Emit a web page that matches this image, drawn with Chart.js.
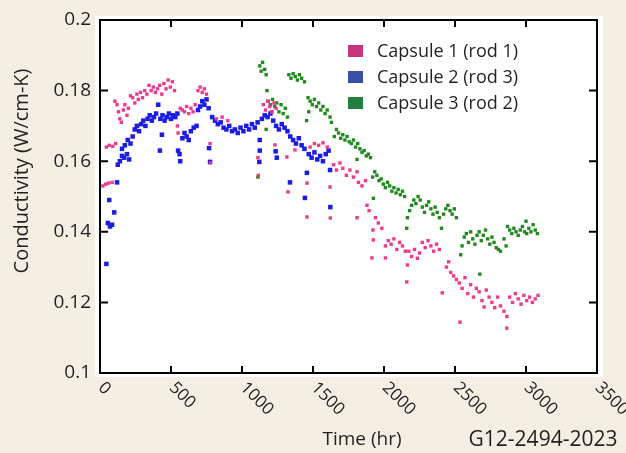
<!DOCTYPE html>
<html>
<head>
<meta charset="utf-8">
<script src="https://cdn.jsdelivr.net/npm/chart.js@4"></script>
<style>
  html, body { margin: 0; padding: 0; background: #f3efe2; }
  #wrap { width: 626px; height: 453px; }
</style>
</head>
<body>
<div id="wrap"><canvas id="cond" width="626" height="453"></canvas></div>
<script>
// tick values and labels
var xTicks = [0, 500, 1000, 1500, 2000, 2500, 3000, 3500];
var yTicks = [0.1, 0.12, 0.14, 0.16, 0.18, 0.2];
var yTickLabels = ["0.1", "0.12", "0.14", "0.16", "0.18", "0.2"];

var seriesNames = ["Capsule 1 (rod 1)", "Capsule 2 (rod 3)", "Capsule 3 (rod 2)"];

// Capsule 1 (rod 1)
var cap1Time = [20, 40, 60, 85, 45, 65, 90, 110, 105, 120, 130, 140, 150, 165, 175, 190, 200,
  215, 230, 245, 260, 270, 285, 300, 315, 330, 345, 360, 375, 390, 405, 420, 435, 450, 465, 480, 495, 510, 525,
  545, 550, 565, 580, 595, 610, 625, 640, 655, 670, 690, 705, 720, 735, 750, 775, 778, 820, 860, 900,
  1112, 1115, 1150, 1165, 1180, 1195, 1210, 1225, 1240, 1232, 1316, 1324, 1373, 1457, 1457,
  1480, 1510, 1540, 1570, 1600, 1620, 1622, 1645, 1665, 1690, 1710, 1735, 1760, 1785, 1810, 1820, 1845, 1870,
  1880, 1895, 1810, 1940, 1960, 1985, 1922, 1925, 1915, 2010, 2010, 2030, 2050, 2070, 2090, 2110, 2130, 2150,
  2165, 2160, 2175, 2195, 2215, 2235, 2250, 2270, 2290, 2310, 2330, 2350, 2370, 2390, 2410,
  2440, 2455, 2470, 2490, 2510, 2530, 2535, 2550, 2570, 2590, 2610, 2630, 2650, 2670, 2690, 2705,
  2720, 2740, 2760, 2780, 2800, 2820, 2845, 2865, 2865, 2885, 2905, 2925, 2945, 2965, 2985, 3005, 3025, 3045, 3065, 3085];
var cap1Cond = [0.1530, 0.1535, 0.1538, 0.1540, 0.1640, 0.1645, 0.1642, 0.1650, 0.1770, 0.1760, 0.1740, 0.1720, 0.1710, 0.1745, 0.1760, 0.1730, 0.1750,
  0.1785, 0.1780, 0.1765, 0.1790, 0.1775, 0.1795, 0.1780, 0.1800, 0.1790, 0.1815, 0.1800, 0.1810, 0.1795, 0.1805, 0.1815, 0.1790, 0.1820, 0.1805, 0.1830, 0.1810, 0.1825, 0.1800,
  0.1700, 0.1680, 0.1750, 0.1745, 0.1740, 0.1755, 0.1735, 0.1750, 0.1740, 0.1760, 0.1800, 0.1810, 0.1795, 0.1805, 0.1790, 0.1650, 0.1595, 0.1720, 0.1725, 0.1715,
  0.1610, 0.1560, 0.1760, 0.1745, 0.1770, 0.1755, 0.1740, 0.1765, 0.1750, 0.1646, 0.1612, 0.1513, 0.1632, 0.1538, 0.1442,
  0.1640, 0.1650, 0.1645, 0.1652, 0.1640, 0.1527, 0.1439, 0.1590, 0.1575, 0.1595, 0.1580, 0.1560, 0.1575, 0.1555, 0.1570, 0.1540, 0.1530, 0.1545,
  0.1475, 0.1460, 0.1440, 0.1440, 0.1425, 0.1410, 0.1405, 0.1377, 0.1326, 0.1326, 0.1360, 0.1375, 0.1365, 0.1380, 0.1350, 0.1370, 0.1360, 0.1345,
  0.1306, 0.1258, 0.1345, 0.1330, 0.1350, 0.1325, 0.1340, 0.1370, 0.1355, 0.1375, 0.1360, 0.1345, 0.1365, 0.1350, 0.1227,
  0.1300, 0.1315, 0.1285, 0.1275, 0.1265, 0.1255, 0.1144, 0.1240, 0.1270, 0.1225, 0.1250, 0.1215, 0.1240, 0.1230, 0.1205, 0.1187,
  0.1235, 0.1215, 0.1200, 0.1185, 0.1215, 0.1190, 0.1175, 0.1160, 0.1127, 0.1215, 0.1200, 0.1225, 0.1210, 0.1195, 0.1220, 0.1205, 0.1215, 0.1200, 0.1210, 0.1220];

// Capsule 2 (rod 3)
var cap2Time = [45, 65, 55, 70, 85, 100, 120, 125, 140, 155, 170, 190, 205, 155, 175, 195, 215, 230, 245, 260, 275, 290,
  305, 320, 335, 350, 365, 380, 395, 410, 425, 440, 455, 470, 485, 500, 515, 530, 545, 436, 422, 550, 560, 565,
  580, 595, 610, 625, 640, 660, 680, 690, 705, 720, 735, 750, 765, 768, 775,
  790, 810, 830, 850, 870, 890, 910, 930, 950, 970, 990, 1010, 1030, 1050, 1070, 1090, 1110, 1125, 1125, 1122,
  1140, 1160, 1180, 1200, 1220, 1240, 1260, 1280, 1300, 1320, 1237, 1245,
  1340, 1360, 1380, 1400, 1420, 1440, 1338, 1443, 1457, 1470, 1490, 1510, 1530, 1550, 1570, 1590, 1610, 1620, 1622];
var cap2Cond = [0.1309, 0.1490, 0.1425, 0.1415, 0.1420, 0.1455, 0.1540, 0.1590, 0.1600, 0.1615, 0.1610, 0.1620, 0.1605, 0.1635, 0.1645, 0.1660, 0.1650, 0.1670, 0.1690, 0.1700, 0.1685, 0.1705,
  0.1715, 0.1700, 0.1720, 0.1730, 0.1715, 0.1725, 0.1735, 0.1760, 0.1720, 0.1730, 0.1715, 0.1725, 0.1735, 0.1720, 0.1730, 0.1725, 0.1735, 0.1675, 0.1630, 0.1630, 0.1620, 0.1600,
  0.1665, 0.1680, 0.1670, 0.1660, 0.1685, 0.1695, 0.1700, 0.1745, 0.1755, 0.1770, 0.1760, 0.1775, 0.1750, 0.1637, 0.1598,
  0.1725, 0.1715, 0.1705, 0.1710, 0.1695, 0.1690, 0.1700, 0.1685, 0.1690, 0.1680, 0.1695, 0.1685, 0.1700, 0.1690, 0.1705, 0.1695, 0.1710, 0.1660, 0.1630, 0.1598,
  0.1720, 0.1730, 0.1725, 0.1735, 0.1715, 0.1700, 0.1690, 0.1705, 0.1695, 0.1685, 0.1628, 0.1610,
  0.1670, 0.1660, 0.1650, 0.1665, 0.1645, 0.1635, 0.1540, 0.1496, 0.1567, 0.1620, 0.1610, 0.1625, 0.1605, 0.1615, 0.1600, 0.1620, 0.1630, 0.1575, 0.1470];

// Capsule 3 (rod 2)
var cap3Time = [1112, 1125, 1135, 1145, 1160, 1170, 1170, 1176, 1185, 1200, 1215, 1230, 1245, 1260, 1275, 1290, 1305, 1320, 1210,
  1330, 1345, 1360, 1375, 1390, 1405, 1420, 1440, 1455, 1470, 1465, 1480, 1495, 1510, 1525, 1540, 1555, 1570, 1585, 1600, 1620, 1630,
  1650, 1665, 1680, 1695, 1710, 1725, 1740, 1755, 1770, 1785, 1800, 1815, 1830, 1845, 1860, 1875, 1890, 1905, 1810,
  1920, 1935, 1950, 1965, 1980, 1995, 2010, 2025, 2040, 2055, 2070, 2085, 2100, 2115, 2130, 2145, 1925,
  2160, 2165, 2180, 2195, 2210, 2225, 2240, 2255, 2270, 2285, 2300, 2315, 2330, 2345, 2360, 2375, 2390, 2405,
  2420, 2435, 2450, 2465, 2480, 2495, 2510, 2540, 2550, 2565, 2580, 2595, 2610, 2625, 2640, 2655, 2670, 2675,
  2685, 2700, 2715, 2730, 2745, 2760, 2775, 2790, 2805, 2820, 2845, 2860, 2870, 2885, 2900, 2915, 2930, 2945,
  2960, 2975, 2990, 3005, 3020, 3035, 3050, 3065, 3080, 3000];
var cap3Cond = [0.1555, 0.1870, 0.1855, 0.1880, 0.1860, 0.1845, 0.1690, 0.1800, 0.1770, 0.1760, 0.1775, 0.1755, 0.1765, 0.1740, 0.1760, 0.1735, 0.1750, 0.1725, 0.1740,
  0.1845, 0.1835, 0.1848, 0.1840, 0.1830, 0.1845, 0.1835, 0.1825, 0.1715, 0.1740, 0.1780, 0.1770, 0.1760, 0.1775, 0.1755, 0.1765, 0.1745, 0.1755, 0.1735, 0.1745, 0.1725, 0.1710,
  0.1670, 0.1690, 0.1680, 0.1665, 0.1675, 0.1660, 0.1670, 0.1655, 0.1650, 0.1660, 0.1640, 0.1650, 0.1635, 0.1625, 0.1630, 0.1615, 0.1620, 0.1610, 0.1605,
  0.1555, 0.1570, 0.1560, 0.1545, 0.1550, 0.1535, 0.1525, 0.1540, 0.1530, 0.1515, 0.1525, 0.1510, 0.1520, 0.1505, 0.1515, 0.1500, 0.1495,
  0.1410, 0.1440, 0.1460, 0.1475, 0.1490, 0.1480, 0.1500, 0.1490, 0.1470, 0.1455, 0.1475, 0.1485, 0.1465, 0.1450, 0.1470, 0.1455, 0.1440, 0.1410,
  0.1450, 0.1465, 0.1475, 0.1460, 0.1450, 0.1465, 0.1440, 0.1335, 0.1360, 0.1385, 0.1395, 0.1370, 0.1400, 0.1380, 0.1365, 0.1390, 0.1400, 0.1280,
  0.1375, 0.1390, 0.1405, 0.1380, 0.1365, 0.1385, 0.1370, 0.1355, 0.1350, 0.1345, 0.1380, 0.1360, 0.1415, 0.1405, 0.1395, 0.1410, 0.1400, 0.1390,
  0.1405, 0.1415, 0.1400, 0.1395, 0.1410, 0.1400, 0.1420, 0.1405, 0.1395, 0.1430];

var pointColors = ["#ec3a8d", "#1c1ce2", "#22891f"];
var legendColors = ["#c8357f", "#3a4ea6", "#21803d"];
var textColor = "#231f20";
var fontFam = "'Open Sans', Lato, sans-serif";

function pairs(xs, ys) {
  return xs.map(function (t, i) { return { x: t, y: ys[i] }; });
}

// frame, inward ticks, rotated labels, titles and legend
const frame = {
  id: "frame",
  beforeDraw(chart) {
    const ctx = chart.ctx;
    const a = chart.chartArea;
    ctx.save();
    ctx.fillStyle = "#f3efe2";
    ctx.fillRect(0, 0, chart.width, chart.height);
    ctx.fillStyle = "#ffffff";
    ctx.fillRect(a.left - 5, a.top - 4, a.right - a.left + 11, a.bottom - a.top + 8);
    ctx.restore();
  },
  afterDatasetsDraw(chart) {
    const ctx = chart.ctx;
    const a = chart.chartArea;
    const x = chart.scales.x;
    const y = chart.scales.y;
    ctx.save();
    ctx.strokeStyle = "#000";
    ctx.lineWidth = 2;
    ctx.strokeRect(a.left, a.top, a.right - a.left, a.bottom - a.top);

    ctx.beginPath();
    xTicks.forEach(function (v) {
      const px = x.getPixelForValue(v);
      ctx.moveTo(px, a.bottom); ctx.lineTo(px, a.bottom - 7);
      ctx.moveTo(px, a.top); ctx.lineTo(px, a.top + 7);
    });
    yTicks.forEach(function (v) {
      const py = y.getPixelForValue(v);
      ctx.moveTo(a.left, py); ctx.lineTo(a.left + 8, py);
      ctx.moveTo(a.right, py); ctx.lineTo(a.right - 8, py);
    });
    ctx.stroke();

    ctx.fillStyle = textColor;
    ctx.font = "19px " + fontFam;
    ctx.textAlign = "right";
    ctx.textBaseline = "middle";
    yTicks.forEach(function (v, i) {
      ctx.fillText(yTickLabels[i], a.left - 9, y.getPixelForValue(v));
    });

    ctx.font = "17px " + fontFam;
    ctx.textAlign = "left";
    xTicks.forEach(function (v) {
      const px = x.getPixelForValue(v);
      ctx.save();
      ctx.translate(px + 1, a.bottom + 12);
      ctx.rotate(Math.PI / 4);
      ctx.fillText(String(v), 0, 0);
      ctx.restore();
    });

    ctx.textAlign = "center";
    ctx.font = "19px " + fontFam;
    ctx.fillText("Time (hr)", 362, 440);
    ctx.font = "21px " + fontFam;
    ctx.fillText("G12-2494-2023", 543, 440);
    ctx.font = "20px " + fontFam;
    ctx.save();
    ctx.translate(22, 171);
    ctx.rotate(-Math.PI / 2);
    ctx.fillText("Conductivity (W/cm-K)", 0, 0);
    ctx.restore();

    // legend
    ctx.textAlign = "left";
    ctx.font = "18px " + fontFam;
    seriesNames.forEach(function (name, i) {
      const top = 45 + i * 26;
      ctx.fillStyle = legendColors[i];
      ctx.fillRect(348, top, 15, 12);
      ctx.fillStyle = textColor;
      ctx.fillText(name, 377, top + 7);
    });
    ctx.restore();
  }
};

new Chart(document.getElementById("cond"), {
  type: "scatter",
  data: {
    datasets: [
      { label: seriesNames[0], data: pairs(cap1Time, cap1Cond), backgroundColor: pointColors[0], pointStyle: "rect", pointRadius: 2.4, borderWidth: 0 },
      { label: seriesNames[1], data: pairs(cap2Time, cap2Cond), backgroundColor: pointColors[1], pointStyle: "rect", pointRadius: 3.2, borderWidth: 0 },
      { label: seriesNames[2], data: pairs(cap3Time, cap3Cond), backgroundColor: pointColors[2], pointStyle: "rect", pointRadius: 2.4, borderWidth: 0 }
    ]
  },
  options: {
    responsive: false,
    animation: false,
    layout: { padding: { left: 100, top: 20, right: 29, bottom: 80 } },
    plugins: {
      legend: { display: false },
      tooltip: { enabled: false }
    },
    scales: {
      x: { type: "linear", min: 0, max: 3500, display: false },
      y: { type: "linear", min: 0.1, max: 0.2, display: false }
    }
  },
  plugins: [frame]
});
</script>
</body>
</html>
